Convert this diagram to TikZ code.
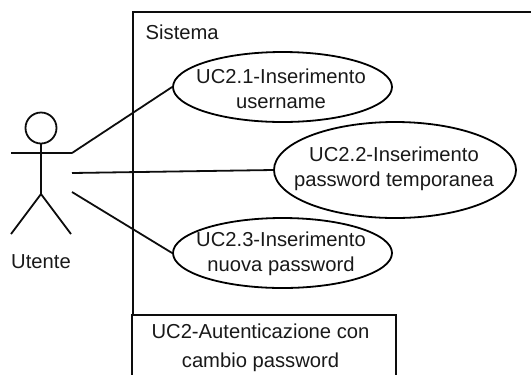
\documentclass[tikz,border=0pt]{standalone}
\usepackage{fontspec}
\setmainfont{Liberation Sans}
\usetikzlibrary{shapes.geometric}
\tikzset{
  ln/.style={line width=1.8bp,black!95},
  uc/.style={ellipse,draw,line width=1.8bp,inner sep=0pt},
  uctext/.style={inner sep=0pt,align=center,font=\fontsize{20.2bp}{25bp}\selectfont,text=black!90},
  lbl/.style={inner sep=0pt,font=\fontsize{20.2bp}{24bp}\selectfont,text=black!90}
}
\begin{document}
\begin{tikzpicture}[x=1bp,y=-1bp]
\useasboundingbox (0,0) rectangle (531,374);
\clip (0,0) rectangle (531,374);
% system boundary
\node[draw,ln,rectangle,inner sep=0pt,minimum width=500bp,minimum height=400bp,anchor=north west] (sys) at (132,11) {};
\node[lbl,anchor=base west] (systxt) at (145.5,39) {Sistema};
% title box
\node[draw,ln,rectangle,fill=white,inner sep=0pt,minimum width=264bp,minimum height=64bp] (title) at (264,347) {};
\node[uctext,font=\fontsize{20.2bp}{29.5bp}\selectfont] (titletxt) at (260.5,348) {UC2-Autenticazione con\\cambio password};
% use cases
\node[uc,minimum width=219bp,minimum height=70bp] (uc1) at (282.5,87) {};
\node[uctext] (uc1txt) at (281,88.5) {UC2.1-Inserimento\\username};
\node[uc,minimum width=242bp,minimum height=96bp] (uc2) at (395,170) {};
\node[uctext] (uc2txt) at (394,169) {UC2.2-Inserimento\\password temporanea};
\node[uc,minimum width=219bp,minimum height=70bp] (uc3) at (282.5,253) {};
\node[uctext] (uc3txt) at (281,254) {UC2.3-Inserimento\\nuova password};
% actor
\node[circle,draw,ln,inner sep=0pt,minimum size=31bp] (head) at (41,128) {};
\coordinate (armL) at (11,153);
\coordinate (armR) at (72,153);
\coordinate (hip) at (41,194);
\coordinate (footL) at (11,234);
\coordinate (footR) at (71,234);
\coordinate (mid) at (72,173);
\coordinate (low) at (72,192);
\draw[ln] (head.south) -- (hip);
\draw[ln] (armL) -- (armR);
\draw[ln] (footL) -- (hip) -- (footR);
\node[lbl,anchor=base] (utente) at (41,268) {Utente};
% connectors
\draw[ln] (armR) -- (uc1.west);
\draw[ln] (mid) -- (uc2.west);
\draw[ln] (low) -- (uc3.west);
\end{tikzpicture}
\end{document}
